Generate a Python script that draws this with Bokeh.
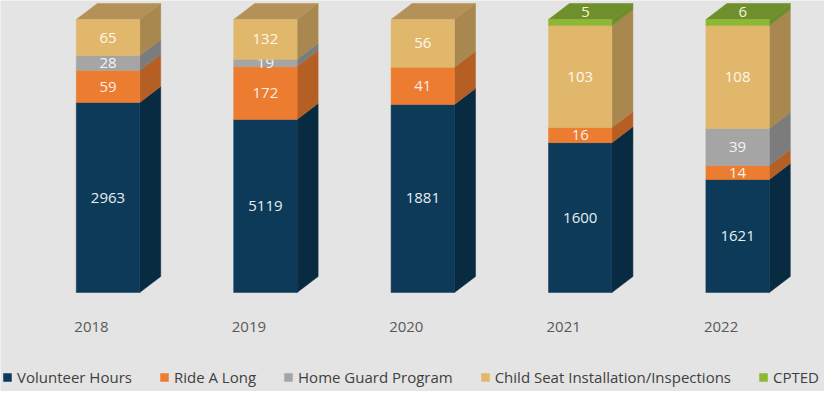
from bokeh.plotting import figure
from bokeh.models import Range1d, Legend, LegendItem
from bokeh.embed import file_html
from bokeh.resources import INLINE
from bokeh.core.properties import value

# ---------------- data ----------------
years = ["2018", "2019", "2020", "2021", "2022"]
series_names = ["Volunteer Hours", "Ride A Long", "Home Guard Program",
                "Child Seat Installation/Inspections", "CPTED"]

volunteer_hours = [2963, 5119, 1881, 1600, 1621]
ride_a_long = [59, 172, 41, 16, 14]
home_guard = [28, 19, 0, 0, 39]
child_seat = [65, 132, 56, 103, 108]
cpted = [0, 0, 0, 5, 6]

# share (%) of each column's height taken by each series, as drawn (100% stacked 3-D columns)
share_volunteer = [69.6, 63.4, 68.9, 54.9, 41.4]
share_ride = [11.7, 19.4, 13.6, 5.5, 5.1]
share_home = [5.5, 2.6, 0.0, 0.0, 13.6]
share_child = [13.2, 14.6, 17.5, 37.4, 37.7]
share_cpted = [0.0, 0.0, 0.0, 2.2, 2.2]

labels_by_series = [volunteer_hours, ride_a_long, home_guard, child_seat, cpted]
shares_by_series = [share_volunteer, share_ride, share_home, share_child, share_cpted]

# ---------------- style ----------------
BG = "#e4e4e4"
FONT = "Open Sans"
front_colors = ["#0d3a58", "#ec7c30", "#a5a5a5", "#e1b86b", "#8db734"]
side_colors = ["#082b42", "#b65f24", "#7c7c7c", "#a9884f", "#6c8d2a"]
top_colors = ["#0a3350", "#c5692a", "#8f8f8f", "#b39158", "#6f8f2c"]
label_colors = ["#e6eef4", "#fbeee4", "#f4f4f4", "#fff7ea", "#eef6dc"]

BAR_W = 0.403      # front face width (category units)
DX = 0.1334        # depth, x (category units)
DY = 5.86          # depth, y (% units)

p = figure(width=824, height=391,
           x_range=Range1d(-0.683, 4.552), y_range=Range1d(-36.26, 106.96),
           output_backend="svg", toolbar_location=None, min_border=0,
           background_fill_color=BG, border_fill_color=BG,
           outline_line_color=None, x_axis_location=None, y_axis_location=None)
p.xgrid.visible = False
p.ygrid.visible = False

n = len(years)
bottoms = [0.0] * n
legend_items = []
for s, name in enumerate(series_names):
    shares = shares_by_series[s]
    vals = labels_by_series[s]
    left, right, bot, top = [], [], [], []
    side_xs, side_ys = [], []
    lx, ly, lt = [], [], []
    top_xs, top_ys = [], []
    for i in range(n):
        h = shares[i]
        if h <= 0:
            continue
        b = bottoms[i]
        t = b + h
        bottoms[i] = t
        l_ = i - BAR_W / 2
        r_ = i + BAR_W / 2
        left.append(l_); right.append(r_); bot.append(b); top.append(t)
        side_xs.append([r_, r_ + DX, r_ + DX, r_])
        side_ys.append([b, b + DY, t + DY, t])
        is_top = all(shares_by_series[k][i] <= 0 for k in range(s + 1, len(series_names)))
        if is_top:
            top_xs.append([l_, l_ + DX, r_ + DX, r_])
            top_ys.append([t, t + DY, t + DY, t])
        if s == 4:
            lx.append(i + DX * 0.25)
            ly.append(t + DY * 0.45)
        else:
            lx.append(float(i))
            ly.append((b + t) / 2)
        lt.append(str(vals[i]))
    if side_xs:
        p.patches(side_xs, side_ys, fill_color=side_colors[s],
                  line_color=side_colors[s], line_width=0.5)
    if top_xs:
        p.patches(top_xs, top_ys, fill_color=top_colors[s],
                  line_color=top_colors[s], line_width=0.5)
    r = p.quad(left=left, right=right, bottom=bot, top=top,
               fill_color=front_colors[s], line_color=front_colors[s], line_width=0.5)
    legend_items.append(LegendItem(label=name, renderers=[r]))
    p.text(lx, ly, text=lt, text_align="center", text_baseline="middle",
           text_font=value(FONT), text_font_size="15px", text_color=label_colors[s])

# category (year) labels
p.text([i - 0.105 for i in range(n)], [-12.8] * n, text=years,
       text_align="center", text_baseline="middle", text_font=value(FONT),
       text_font_size="15px", text_color="#595959")

legend = Legend(items=legend_items, orientation="horizontal", location=(2, 4),
                glyph_width=10, glyph_height=10, label_standoff=5, spacing=27,
                padding=0, margin=0, border_line_color=None, background_fill_alpha=0,
                label_text_font=FONT, label_text_font_size="15px",
                label_text_color="#404040", label_height=14)
p.add_layout(legend)

open("out.html", "w").write(file_html(p, INLINE))
